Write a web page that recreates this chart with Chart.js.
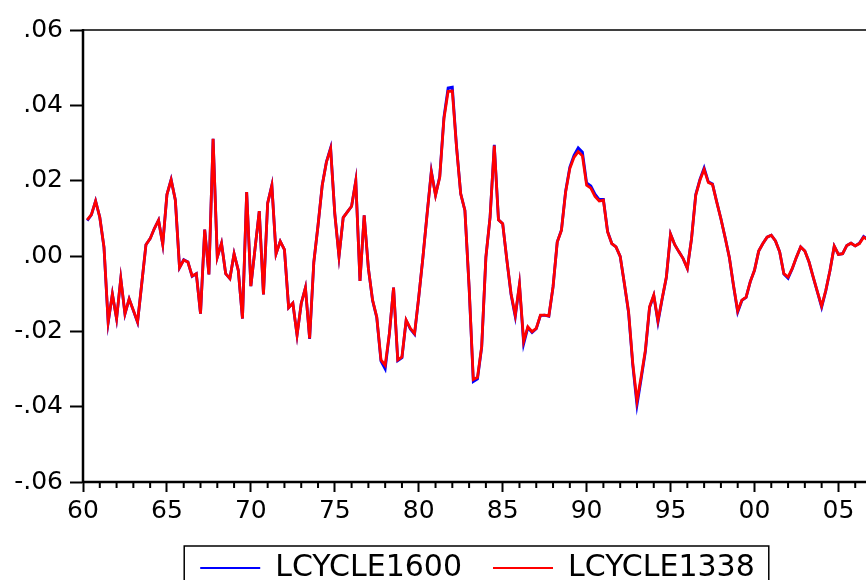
<!DOCTYPE html>
<html>
<head>
<meta charset="utf-8">
<title>LCYCLE1600 / LCYCLE1338</title>
<script src="https://cdn.jsdelivr.net/npm/chart.js@4.4.1/dist/chart.umd.min.js"></script>
<style>
  html, body { margin: 0; padding: 0; background: #fff; overflow: hidden; }
  #wrap { position: relative; width: 876px; height: 593px; }
</style>
</head>
<body>
<div id="wrap"><canvas id="cycleChart"></canvas></div>
<script>
// quarterly cycle components, first observation 1960Q2
const firstQuarter = 1960.25;

const lcycle1338 = [
  0.0096, 0.0110, 0.0146, 0.0103, 0.0024, -0.0175, -0.0101, -0.0166, -0.0060, -0.0153,
  -0.0114, -0.0144, -0.0175, -0.0073, 0.0030, 0.0046, 0.0073, 0.0095, 0.0031, 0.0163,
  0.0202, 0.0149, -0.0031, -0.0011, -0.0016, -0.0053, -0.0047, -0.0153, 0.0070, -0.0049,
  0.0311, -0.0003, 0.0034, -0.0047, -0.0060, 0.0006, -0.0038, -0.0166, 0.0170, -0.0080,
  0.0020, 0.0119, -0.0102, 0.0140, 0.0187, 0.0006, 0.0039, 0.0017, -0.0137, -0.0125,
  -0.0210, -0.0126, -0.0084, -0.0219, -0.0016, 0.0081, 0.0187, 0.0249, 0.0285, 0.0112,
  -0.0001, 0.0102, 0.0117, 0.0132, 0.0199, -0.0066, 0.0108, -0.0033, -0.0117, -0.0162,
  -0.0276, -0.0290, -0.0206, -0.0084, -0.0276, -0.0268, -0.0170, -0.0192, -0.0206, -0.0109,
  -0.0003, 0.0112, 0.0223, 0.0161, 0.0209, 0.0364, 0.0437, 0.0438, 0.0289, 0.0165,
  0.0121, -0.0082, -0.0328, -0.0322, -0.0240, -0.0003, 0.0103, 0.0293, 0.0096, 0.0086,
  -0.0011, -0.0100, -0.0157, -0.0075, -0.0226, -0.0188, -0.0201, -0.0192, -0.0157, -0.0157,
  -0.0159, -0.0082, 0.0037, 0.0068, 0.0170, 0.0232, 0.0262, 0.0277, 0.0266, 0.0188,
  0.0180, 0.0158, 0.0146, 0.0148, 0.0064, 0.0033, 0.0024, -0.0001, -0.0073, -0.0148,
  -0.0285, -0.0385, -0.0320, -0.0250, -0.0135, -0.0104, -0.0172, -0.0113, -0.0056, 0.0058,
  0.0030, 0.0011, -0.0007, -0.0033, 0.0046, 0.0161, 0.0201, 0.0230, 0.0195, 0.0190,
  0.0143, 0.0099, 0.0049, -0.0003, -0.0078, -0.0146, -0.0117, -0.0109, -0.0068, -0.0038,
  0.0013, 0.0033, 0.0050, 0.0055, 0.0040, 0.0011, -0.0047, -0.0056, -0.0033, -0.0003,
  0.0024, 0.0013, -0.0016, -0.0056, -0.0095, -0.0133, -0.0091, -0.0038, 0.0026, 0.0004,
  0.0006, 0.0028, 0.0034, 0.0027, 0.0033, 0.0050, 0.0043
];

const lcycle1600 = [
  0.0094, 0.0109, 0.0146, 0.0103, 0.0023, -0.0177, -0.0101, -0.0167, -0.0060, -0.0154,
  -0.0114, -0.0145, -0.0176, -0.0073, 0.0030, 0.0046, 0.0073, 0.0095, 0.0031, 0.0163,
  0.0203, 0.0149, -0.0031, -0.0010, -0.0016, -0.0054, -0.0047, -0.0153, 0.0070, -0.0049,
  0.0311, -0.0003, 0.0034, -0.0047, -0.0060, 0.0006, -0.0038, -0.0166, 0.0170, -0.0080,
  0.0020, 0.0119, -0.0102, 0.0140, 0.0188, 0.0006, 0.0039, 0.0017, -0.0137, -0.0125,
  -0.0210, -0.0126, -0.0084, -0.0220, -0.0016, 0.0081, 0.0188, 0.0250, 0.0287, 0.0112,
  -0.0001, 0.0102, 0.0117, 0.0132, 0.0200, -0.0066, 0.0108, -0.0033, -0.0118, -0.0164,
  -0.0279, -0.0300, -0.0207, -0.0084, -0.0278, -0.0270, -0.0171, -0.0194, -0.0208, -0.0109,
  -0.0003, 0.0113, 0.0225, 0.0162, 0.0211, 0.0368, 0.0446, 0.0448, 0.0291, 0.0165,
  0.0121, -0.0083, -0.0333, -0.0326, -0.0242, -0.0003, 0.0104, 0.0295, 0.0096, 0.0086,
  -0.0011, -0.0103, -0.0161, -0.0076, -0.0233, -0.0190, -0.0203, -0.0193, -0.0158, -0.0157,
  -0.0160, -0.0082, 0.0037, 0.0069, 0.0172, 0.0236, 0.0267, 0.0287, 0.0276, 0.0194,
  0.0186, 0.0164, 0.0150, 0.0150, 0.0065, 0.0033, 0.0024, -0.0001, -0.0074, -0.0151,
  -0.0290, -0.0396, -0.0326, -0.0254, -0.0137, -0.0105, -0.0176, -0.0114, -0.0057, 0.0058,
  0.0030, 0.0011, -0.0007, -0.0033, 0.0046, 0.0163, 0.0203, 0.0234, 0.0197, 0.0191,
  0.0144, 0.0099, 0.0049, -0.0003, -0.0079, -0.0149, -0.0118, -0.0110, -0.0068, -0.0038,
  0.0013, 0.0033, 0.0050, 0.0055, 0.0040, 0.0011, -0.0048, -0.0059, -0.0034, -0.0003,
  0.0024, 0.0013, -0.0016, -0.0057, -0.0096, -0.0136, -0.0092, -0.0038, 0.0026, 0.0004,
  0.0006, 0.0028, 0.0034, 0.0027, 0.0034, 0.0052, 0.0044
];

const yearTicks = [1960, 1965, 1970, 1975, 1980, 1985, 1990, 1995, 2000, 2005];
const yearLabels = ['60', '65', '70', '75', '80', '85', '90', '95', '00', '05'];
const yTicks = [-0.06, -0.04, -0.02, 0, 0.02, 0.04, 0.06];
const yTickLabels = ['-.06', '-.04', '-.02', '.00', '.02', '.04', '.06'];

Chart.defaults.font.family = '"DejaVu Sans", sans-serif';
Chart.defaults.color = '#000';

function toPoints(values) {
  return values.map((v, i) => ({ x: firstQuarter + i / 4, y: v }));
}

// frame, yearly minor ticks and the boxed legend
const framePlugin = {
  id: 'frame',
  afterLayout(chart) {
    chart.legend.left = chart.chartArea.left;
    chart.legend.right = chart.chartArea.right;
  },
  afterDraw(chart) {
    const { ctx, chartArea: a, scales: { x } } = chart;
    ctx.save();
    ctx.strokeStyle = '#000';
    ctx.lineWidth = 1.5;
    ctx.beginPath();
    ctx.moveTo(a.left, a.top);
    ctx.lineTo(a.right, a.top);
    ctx.lineTo(a.right, a.bottom);
    ctx.stroke();

    // heavier axis lines
    ctx.lineWidth = 2.5;
    ctx.beginPath();
    ctx.moveTo(a.left, a.top - 1);
    ctx.lineTo(a.left, a.bottom);
    ctx.lineTo(a.right, a.bottom);
    ctx.stroke();

    ctx.lineWidth = 2;
    ctx.beginPath();
    for (let yr = 1961; yr < 2007; yr++) {
      if (yr % 5 === 0) continue;
      const px = x.getPixelForValue(yr);
      ctx.moveTo(px, a.bottom);
      ctx.lineTo(px, a.bottom + 6);
    }
    ctx.stroke();

    const hb = chart.legend.legendHitBoxes;
    if (hb && hb.length) {
      const last = hb[hb.length - 1];
      const l = hb[0].left - 16;
      const r = last.left + last.width + 14;
      const t = hb[0].top - 7;
      ctx.lineWidth = 1.5;
      ctx.strokeRect(l, t, r - l, chart.height - t + 10);
    }
    ctx.restore();
  }
};

new Chart(document.getElementById('cycleChart'), {
  type: 'line',
  data: {
    datasets: [
      {
        label: 'LCYCLE1600',
        data: toPoints(lcycle1600),
        borderColor: '#0000ff',
        backgroundColor: '#0000ff',
        borderWidth: 2.8,
        pointRadius: 0,
        tension: 0,
        order: 1
      },
      {
        label: 'LCYCLE1338',
        data: toPoints(lcycle1338),
        borderColor: '#ff0000',
        backgroundColor: '#ff0000',
        borderWidth: 2.8,
        pointRadius: 0,
        tension: 0,
        order: 0
      }
    ]
  },
  options: {
    responsive: true,
    maintainAspectRatio: false,
    animation: false,
    layout: { padding: { top: 30, right: 4, left: 0, bottom: 0 } },
    plugins: {
      tooltip: { enabled: false },
      legend: {
        position: 'bottom',
        labels: {
          boxWidth: 60,
          boxHeight: 2,
          padding: 31,
          color: '#000',
          font: { size: 30 },
          sort: (a, b) => a.datasetIndex - b.datasetIndex,
          generateLabels: chart => Chart.defaults.plugins.legend.labels.generateLabels(chart)
            .map(item => Object.assign(item, { fillStyle: item.strokeStyle, lineWidth: 0 }))
        }
      }
    },
    scales: {
      x: {
        type: 'linear',
        min: 1960,
        max: 2007,
        afterBuildTicks: s => { s.ticks = yearTicks.map(v => ({ value: v })); },
        afterFit: s => { s.height = 40; },
        grid: { drawOnChartArea: false, tickLength: 10, tickWidth: 2, tickColor: '#000' },
        border: { color: '#000', width: 2 },
        ticks: {
          padding: 4,
          maxRotation: 0,
          autoSkip: false,
          color: '#000',
          font: { size: 25 },
          callback: (v, i) => yearLabels[i]
        }
      },
      y: {
        min: -0.06,
        max: 0.06,
        afterBuildTicks: s => { s.ticks = yTicks.map(v => ({ value: v })); },
        afterFit: s => { s.width = 83; },
        grid: { drawOnChartArea: false, tickLength: 13, tickWidth: 2, tickColor: '#000' },
        border: { color: '#000', width: 2 },
        ticks: {
          padding: 7,
          color: '#000',
          font: { size: 25 },
          callback: (v, i) => yTickLabels[i]
        }
      }
    }
  },
  plugins: [framePlugin]
});
</script>
</body>
</html>
